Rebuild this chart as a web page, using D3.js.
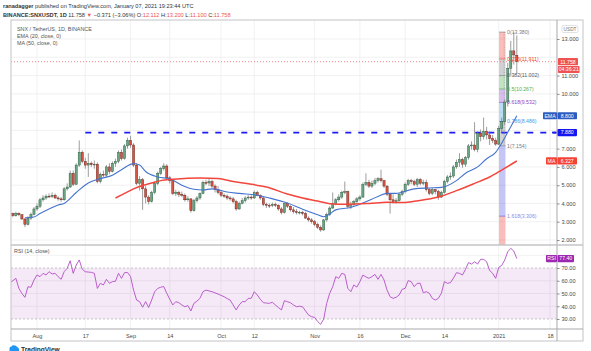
<!DOCTYPE html>
<html>
<head>
<meta charset="utf-8">
<script src="https://cdn.jsdelivr.net/npm/d3@7/dist/d3.min.js"></script>
<style>
  body { margin: 0; background: #fff; }
  svg { display: block; font-family: "Liberation Sans", Arial, sans-serif; }
</style>
</head>
<body>
<script>
// SNX / TetherUS, 1D, Binance - one candle per day from 23 Jul 2020 to 7 Jan 2021
var firstDay = "2020-07-23";

var opens = [
  3.40,3.45,3.33,3.45,3.38,3.15,2.85,3.20,3.40,3.70,
  3.85,4.20,4.30,4.40,4.38,4.45,4.30,4.25,4.20,4.80,
  4.90,5.65,5.05,6.10,6.80,6.30,6.10,6.20,6.12,6.15,
  5.20,5.60,5.55,6.00,5.75,6.20,6.30,6.80,6.45,7.15,
  7.45,7.20,6.10,5.10,5.30,4.80,4.35,4.10,4.60,5.10,
  5.65,5.90,6.05,5.40,5.25,4.55,4.60,4.50,4.45,4.20,
  4.25,3.60,4.15,4.30,4.55,5.15,5.12,5.20,4.95,4.75,
  4.60,4.45,4.40,4.30,4.25,4.10,3.70,4.00,4.15,4.30,
  4.35,4.30,4.60,4.45,4.30,3.95,3.90,3.88,3.95,3.90,
  3.70,3.50,4.00,3.85,3.65,3.55,3.50,3.52,3.45,3.20,
  3.10,3.00,2.85,2.70,2.55,3.10,3.40,3.75,4.00,4.20,
  4.35,4.60,4.65,3.85,3.95,4.10,4.25,4.35,5.05,5.15,
  4.95,5.10,5.25,5.35,5.25,4.95,4.50,4.20,4.10,4.15,
  4.50,4.65,5.05,5.25,5.20,5.05,5.30,5.10,5.15,4.75,
  4.55,4.75,4.65,4.35,4.60,5.20,5.45,5.50,6.00,6.25,
  6.40,6.15,6.50,7.15,7.20,6.95,7.85,7.65,7.95,7.75,
  7.55,7.45,7.25,8.10,8.50,9.55,11.40,12.35,12.112
];
var highs = [
  3.55,3.50,3.55,3.52,3.42,3.20,3.30,3.50,3.80,4.00,
  4.30,4.45,4.50,4.55,4.60,4.55,4.40,4.35,4.90,5.10,
  5.80,5.80,6.20,7.45,6.90,6.50,6.75,6.30,6.35,6.25,
  5.70,5.80,6.10,6.20,6.30,6.45,6.90,6.95,7.25,7.60,
  7.70,7.30,6.20,5.50,5.40,4.95,4.45,4.70,5.20,5.75,
  6.00,6.20,6.15,5.50,5.30,4.75,4.70,4.65,4.55,4.40,
  4.30,4.25,4.40,4.60,5.25,5.30,5.35,5.30,5.05,4.95,
  4.70,4.55,4.50,4.40,4.35,4.20,4.10,4.30,4.40,4.45,
  4.45,4.70,4.70,4.50,4.35,4.05,4.00,4.05,4.05,3.95,
  3.80,4.05,4.05,3.90,3.80,3.70,3.60,3.60,3.55,3.30,
  3.20,3.10,2.95,2.80,3.15,3.50,3.85,4.60,4.30,4.50,
  4.70,5.20,4.70,4.10,4.20,4.35,4.45,5.15,5.65,5.30,
  5.25,5.40,5.45,5.85,5.30,5.00,4.55,4.50,4.30,4.60,
  4.75,5.15,5.35,5.35,5.30,5.40,5.40,5.30,5.30,4.85,
  4.85,4.80,4.75,4.70,5.30,5.55,5.70,6.10,6.40,6.75,
  6.50,6.60,7.25,7.40,8.45,7.95,8.05,8.70,8.20,7.95,
  7.75,7.60,8.25,8.70,9.70,11.70,12.90,13.38,13.20
];
var lows = [
  3.30,3.25,3.28,3.30,3.10,2.70,2.80,3.10,3.35,3.60,
  3.75,4.10,4.20,4.30,4.30,4.25,4.15,4.10,4.15,4.70,
  4.85,4.95,5.00,6.00,6.20,5.90,5.45,6.00,5.90,5.10,
  5.10,5.45,5.45,5.60,5.70,6.00,6.20,6.35,6.40,7.00,
  7.05,6.00,5.00,4.70,3.65,4.00,3.95,4.05,4.50,5.00,
  5.55,5.80,5.30,5.10,4.45,4.40,4.35,4.35,4.10,4.10,
  3.50,3.55,4.05,4.20,4.50,5.00,4.95,4.85,4.60,4.50,
  4.35,4.30,4.20,4.15,4.00,3.60,3.65,3.95,4.05,4.20,
  4.20,4.25,4.40,4.20,3.85,3.75,3.75,3.80,3.80,3.60,
  3.40,3.45,3.75,3.55,3.45,3.40,3.40,3.35,3.15,3.00,
  2.90,2.75,2.60,2.45,2.50,3.00,3.30,3.70,3.90,4.10,
  4.25,4.50,3.75,3.70,3.85,4.00,4.15,4.30,4.95,4.85,
  4.85,5.00,5.15,5.15,4.85,4.40,3.45,4.00,4.00,4.10,
  4.40,4.55,4.95,5.05,4.95,4.90,5.00,5.00,4.65,4.45,
  4.45,4.50,4.20,4.30,4.55,5.10,5.30,5.40,5.90,6.00,
  5.95,6.00,6.40,6.95,6.85,6.80,7.40,7.50,7.50,7.20,
  7.30,7.154,7.20,7.90,8.30,9.30,11.00,11.60,11.10
];
var closes = [
  3.45,3.33,3.45,3.38,3.15,2.85,3.20,3.40,3.70,3.85,
  4.20,4.30,4.40,4.38,4.45,4.30,4.25,4.20,4.80,4.90,
  5.65,5.05,6.10,6.80,6.30,6.10,6.20,6.12,6.15,5.20,
  5.60,5.55,6.00,5.75,6.20,6.30,6.80,6.45,7.15,7.45,
  7.20,6.10,5.10,5.30,4.80,4.35,4.10,4.60,5.10,5.65,
  5.90,6.05,5.40,5.25,4.55,4.60,4.50,4.45,4.20,4.25,
  3.60,4.15,4.30,4.55,5.15,5.12,5.20,4.95,4.75,4.60,
  4.45,4.40,4.30,4.25,4.10,3.70,4.00,4.15,4.30,4.35,
  4.30,4.60,4.45,4.30,3.95,3.90,3.88,3.95,3.90,3.70,
  3.50,4.00,3.85,3.65,3.55,3.50,3.52,3.45,3.20,3.10,
  3.00,2.85,2.70,2.55,3.10,3.40,3.75,4.00,4.20,4.35,
  4.60,4.65,3.85,3.95,4.10,4.25,4.35,5.05,5.15,4.95,
  5.10,5.25,5.35,5.25,4.95,4.50,4.20,4.10,4.15,4.50,
  4.65,5.05,5.25,5.20,5.05,5.30,5.10,5.15,4.75,4.55,
  4.75,4.65,4.35,4.60,5.20,5.45,5.50,6.00,6.25,6.40,
  6.15,6.50,7.15,7.20,6.95,7.85,7.65,7.95,7.75,7.55,
  7.45,7.25,8.10,8.50,9.55,11.40,12.35,12.129,11.758
];
var rsiVals = [
  58.5,60,61.9,54,50,47,55.3,54.9,60.6,64.5,
  63.2,65.8,64.5,67.1,65.3,65.8,63.2,61.1,67.1,69.7,
  75.7,65.8,72.3,76.3,69,67.1,66.8,66.6,65.8,54,
  58,56.7,61.1,58,59.3,59.6,65.8,61.9,66.3,66.5,
  63.2,52.7,44.9,43.6,39.2,43.6,39,44.9,51.4,54,
  54.9,55.5,50.2,45.5,41,43.6,42.8,41,39.6,40.5,
  36.3,42.3,44,46.2,51.4,52.7,52,51.4,50.5,49.6,
  48.5,47.5,46,44.9,41,37.1,41,43.6,43.6,46.2,
  46.2,51.4,48.8,45.5,42.8,42.5,42.3,43.1,41,39,
  37.1,44.4,43.5,42.8,41,39.6,40,39.6,36.3,33.1,
  31.8,31.3,28,25.8,30,42.3,50.2,55.3,63.2,61.9,
  65.8,65,54,51.4,56.7,55,59.3,64.5,63,61.9,
  63.2,65,61.1,65,60.6,52.7,47.5,46.2,47,48.8,
  53.3,54,60.1,59.3,55.3,58,58,50.6,51.4,50.2,
  46.2,44.9,46.2,50.2,59.3,58,58.5,62,66.3,65.8,
  64.5,69,74.2,73.1,74.9,73.1,76.8,76.8,74.9,68,
  65.8,61.9,70.5,72,76.3,82.8,85.4,83.3,77.4
];

// indicator lines (day = days after 1 Aug 2020)
var emaDays = [-4,-1,1,4,7,9,13,17,21,25,28,32,34,36,40,44,48,52,55,58,63,67,73,77,83,88,93,95,97,99,104,108,113,116,119,125,130,134,139,142,146,149,152,154,157,159];
var emaVals = [3.22,3.26,3.45,3.7,3.92,4.0,4.6,5.12,5.36,5.55,5.85,6.18,6.1,5.75,5.45,5.35,5.0,4.78,4.74,4.8,4.63,4.55,4.45,4.3,4.02,3.68,3.38,3.27,3.42,3.65,3.78,4.02,4.38,4.55,4.55,4.8,4.85,4.88,5.25,5.65,6.0,6.45,6.8,7.3,8.2,8.8];
var maDays = [26,29,32,35,38,41,45,50,54,60,65,70,76,83,88,93,97,103,110,116,122,125,133,139,145,150,154,159];
var maVals = [4.3,4.55,4.8,4.98,5.12,5.25,5.32,5.38,5.4,5.36,5.2,5.08,4.9,4.52,4.3,4.13,3.99,3.96,4.0,4.06,4.05,4.12,4.35,4.7,5.1,5.45,5.83,6.327];

var priceTicks = [2,3,4,5,6,7,8,9,10,11,12,13];
var rsiTicks = [30,40,50,60,70,80];
var timeTicks = ["2020-08-01","2020-08-17","2020-09-01","2020-09-14","2020-10-01","2020-10-12","2020-11-01","2020-11-16","2020-12-01","2020-12-14","2021-01-01","2021-01-18"];
var timeLabels = ["Aug","17","Sep","14","Oct","12","Nov","16","Dec","14","2021","18"];

var fibLevels = [0,0.236,0.382,0.5,0.618,0.786,1,1.618,2.618];
var fibColors = ["#787b86","#f44336","#787b86","#4caf50","#8e44c9","#3b9ae6","#787b86","#5b5be6","#f44336"];
var fibText = ["#787b86","#f44336","#555862","#4caf50","#8e44c9","#3b9ae6","#787b86","#8a8ae8"];
var fibHigh = 13.38, fibLow = 7.154;
var resistance = 7.88;
var lastPrice = 11.758;

var parse = d3.utcParse("%Y-%m-%d");
var day0 = parse(firstDay), aug1 = parse("2020-08-01");

// pane edges (window.top is reserved, hence the names)
var paneL = 11, paneR = 557, paneT = 20, paneM = 245, paneB = 329, frameB = 341, frameR = 583;

var x = d3.scaleUtc().domain([aug1, parse("2021-01-18")]).range([37, 550]);
var y = d3.scaleLinear().domain([2, 13]).range([240, 39.03]);
var yr = d3.scaleLinear().domain([30, 70]).range([319, 268]);

var candles = opens.map(function(o, i) {
  return {date: d3.utcDay.offset(day0, i), o: o, h: highs[i], l: lows[i], c: closes[i], rsi: rsiVals[i]};
});
var ema = emaDays.map(function(d, i) { return {date: d3.utcDay.offset(aug1, d), v: emaVals[i]}; });
var ma = maDays.map(function(d, i) { return {date: d3.utcDay.offset(aug1, d), v: maVals[i]}; });

var svg = d3.select("body").append("svg")
    .attr("width", 591)
    .attr("height", 351);

var defs = svg.append("defs");
defs.append("clipPath").attr("id", "clipMain").append("rect")
    .attr("x", paneL).attr("y", paneT).attr("width", paneR - paneL).attr("height", paneM - paneT);
defs.append("clipPath").attr("id", "clipRsi").append("rect")
    .attr("x", paneL).attr("y", paneM).attr("width", paneR - paneL).attr("height", paneB - paneM);

// grid
var grid = svg.append("g").attr("stroke", "#ededed").attr("stroke-width", 0.8);
grid.selectAll("line.v").data(timeTicks).enter().append("line")
    .attr("x1", function(d) { return x(parse(d)); })
    .attr("x2", function(d) { return x(parse(d)); })
    .attr("y1", paneT).attr("y2", paneB);
grid.selectAll("line.h").data(priceTicks).enter().append("line")
    .attr("x1", paneL).attr("x2", paneR)
    .attr("y1", function(d) { return y(d); })
    .attr("y2", function(d) { return y(d); });
grid.selectAll("line.r").data([40, 50, 60, 80]).enter().append("line")
    .attr("x1", paneL).attr("x2", paneR)
    .attr("y1", function(d) { return yr(d); })
    .attr("y2", function(d) { return yr(d); });

// RSI band
svg.append("rect")
    .attr("x", paneL).attr("y", yr(70))
    .attr("width", paneR - paneL).attr("height", yr(30) - yr(70))
    .attr("fill", "#9c27b0").attr("fill-opacity", 0.1);
svg.selectAll("line.band").data([70, 30]).enter().append("line")
    .attr("x1", paneL).attr("x2", paneR)
    .attr("y1", function(d) { return yr(d); })
    .attr("y2", function(d) { return yr(d); })
    .attr("stroke", "#a3a3ad").attr("stroke-width", 0.6)
    .attr("stroke-dasharray", "2,2");

// fib retracement
var fibPrice = function(l) { return fibHigh - l * (fibHigh - fibLow); };
var fx0 = x(parse("2021-01-01")) + 0.3;
var fx1 = x(d3.utcHour.offset(parse("2021-01-03"), 6));
var fibG = svg.append("g").attr("clip-path", "url(#clipMain)");
fibG.selectAll("rect").data(fibLevels.slice(1)).enter().append("rect")
    .attr("x", fx0).attr("width", fx1 - fx0)
    .attr("y", function(d, i) { return y(fibPrice(fibLevels[i])); })
    .attr("height", function(d, i) { return y(fibPrice(d)) - y(fibPrice(fibLevels[i])); })
    .attr("fill", function(d, i) { return fibColors[i + 1]; })
    .attr("fill-opacity", 0.35);
fibG.selectAll("line").data(fibLevels.slice(0, 8)).enter().append("line")
    .attr("x1", fx0).attr("x2", fx1)
    .attr("y1", function(d) { return y(fibPrice(d)); })
    .attr("y2", function(d) { return y(fibPrice(d)); })
    .attr("stroke", function(d, i) { return fibColors[i]; })
    .attr("stroke-width", 0.6);

// resistance line
svg.append("line")
    .attr("x1", x(parse("2020-08-17"))).attr("x2", paneR)
    .attr("y1", y(resistance)).attr("y2", y(resistance))
    .attr("stroke", "#1c1cf2").attr("stroke-width", 1.8)
    .attr("stroke-dasharray", "6,7");

// candles
var cg = svg.append("g").attr("clip-path", "url(#clipMain)");
var bar = cg.selectAll("g.candle").data(candles).enter().append("g");
bar.append("line")
    .attr("x1", function(d) { return x(d.date); })
    .attr("x2", function(d) { return x(d.date); })
    .attr("y1", function(d) { return y(d.h); })
    .attr("y2", function(d) { return y(d.l); })
    .attr("stroke", "#737375").attr("stroke-width", 0.7);
bar.append("rect")
    .attr("x", function(d) { return x(d.date) - 1.1; })
    .attr("width", 2.2)
    .attr("y", function(d) { return y(Math.max(d.o, d.c)); })
    .attr("height", function(d) { return Math.max(0.8, Math.abs(y(d.o) - y(d.c))); })
    .attr("fill", function(d) { return d.c >= d.o ? "#6ba583" : "#d75442"; })
    .attr("stroke", function(d) { return d.c >= d.o ? "#225437" : "#5b1a13"; })
    .attr("stroke-width", 0.4);

// EMA 20 and MA 50
var line = d3.line()
    .x(function(d) { return x(d.date); })
    .y(function(d) { return y(d.v); })
    .curve(d3.curveMonotoneX);
cg.append("path").datum(ema).attr("d", line)
    .attr("fill", "none").attr("stroke", "#4474d0").attr("stroke-width", 1.1);
cg.append("path").datum(ma).attr("d", line)
    .attr("fill", "none").attr("stroke", "#f2463c").attr("stroke-width", 1.5);

// fib trend line and labels
svg.append("line")
    .attr("x1", fx1 - 1.3).attr("x2", fx1 - 1.3)
    .attr("y1", y(fibHigh)).attr("y2", y(fibLow))
    .attr("stroke", "#8a8a8a").attr("stroke-width", 0.6)
    .attr("stroke-dasharray", "1,1.5");
svg.selectAll("text.fib").data(fibLevels.slice(0, 8)).enter().append("text")
    .attr("x", fx1 + 1.6)
    .attr("y", function(d) { return y(fibPrice(d)) + 1.8; })
    .attr("font-size", 5.2)
    .attr("fill", function(d, i) { return fibText[i]; })
    .text(function(d) { return d + "(" + d3.format(".3f")(fibPrice(d)) + ")"; });

// last price line
svg.append("line")
    .attr("x1", paneL).attr("x2", paneR)
    .attr("y1", y(lastPrice)).attr("y2", y(lastPrice))
    .attr("stroke", "#ef5350").attr("stroke-width", 0.7)
    .attr("stroke-dasharray", "1,2");

// RSI line
var rsiLine = d3.line()
    .x(function(d) { return x(d.date); })
    .y(function(d) { return yr(d.rsi); });
svg.append("g").attr("clip-path", "url(#clipRsi)")
  .append("path").datum(candles).attr("d", rsiLine)
    .attr("fill", "none").attr("stroke", "#b24ec6").attr("stroke-width", 0.9);

// frame
var frame = svg.append("g").attr("stroke", "#c4c4c8").attr("fill", "none");
frame.append("rect").attr("x", paneL).attr("y", paneT).attr("width", frameR - paneL).attr("height", frameB - paneT);
frame.append("line").attr("x1", paneR).attr("x2", paneR).attr("y1", paneT).attr("y2", frameB).attr("stroke", "#a9a9ad");
frame.append("line").attr("x1", paneL).attr("x2", frameR).attr("y1", paneM).attr("y2", paneM).attr("stroke-width", 1.6);
frame.append("line").attr("x1", paneL).attr("x2", frameR).attr("y1", paneB).attr("y2", paneB).attr("stroke", "#a9a9ad");

// values that get a coloured tag on the scale
var f3 = d3.format(".3f");
var emaLast = emaVals[emaVals.length - 1], maLast = maVals[maVals.length - 1], rsiLast = rsiVals[rsiVals.length - 1];
var tagYs = [y(lastPrice), y(lastPrice) + 7.8, y(emaLast), y(resistance), y(maLast), yr(rsiLast)];
function covered(py) {
  return tagYs.some(function(t) { return Math.abs(t - py) < 5.8; });
}

// axes
var fontFam = "Liberation Sans, Arial, sans-serif";
var pAxis = svg.append("g")
    .attr("transform", "translate(" + paneR + ",0)")
    .call(d3.axisRight(y).tickValues(priceTicks.filter(function(d) { return !covered(y(d)); }))
      .tickFormat(d3.format(".3f")).tickSize(2.5).tickPadding(2));
var rAxis = svg.append("g")
    .attr("transform", "translate(" + paneR + ",0)")
    .call(d3.axisRight(yr).tickValues(rsiTicks.filter(function(d) { return !covered(yr(d)); }))
      .tickFormat(d3.format(".2f")).tickSize(2.5).tickPadding(2));
var tAxis = svg.append("g")
    .attr("transform", "translate(0," + paneB + ")")
    .call(d3.axisBottom(x).tickValues(timeTicks.map(parse))
      .tickFormat(function(d, i) { return timeLabels[i]; }).tickSize(0).tickPadding(5.5));
[pAxis, rAxis, tAxis].forEach(function(a) {
  a.select(".domain").remove();
  a.attr("font-size", 5.6).attr("font-family", fontFam);
  a.selectAll("text").attr("fill", "#4a4a4a");
  a.selectAll("line").attr("stroke", "#8a8a8a");
});

// price tags on the scale
function tag(x0, x1, yc, fill, txt) {
  svg.append("rect")
      .attr("x", x0).attr("y", yc - 3.6)
      .attr("width", x1 - x0).attr("height", 7.2)
      .attr("rx", 0.8).attr("fill", fill);
  svg.append("text")
      .attr("x", (x0 + x1) / 2).attr("y", yc + 1.9)
      .attr("text-anchor", "middle")
      .attr("font-size", 5.2).attr("fill", "#fff")
      .text(txt);
}
tag(558, 578, y(lastPrice), "#ef5350", f3(lastPrice));
tag(558, 579.5, y(lastPrice) + 7.8, "#ef5350", "04:36:21");
tag(543, 557, y(emaLast), "#2d5bbf", "EMA");
tag(557.5, 577, y(emaLast), "#2d5bbf", f3(emaLast));
svg.append("line").attr("x1", 552).attr("x2", 556).attr("y1", y(resistance)).attr("y2", y(resistance))
    .attr("stroke", "#1c1cf2").attr("stroke-width", 1.8);
tag(557.5, 577, y(resistance), "#1515f0", f3(resistance));
tag(546, 557, y(maLast), "#f44336", "MA");
tag(557.5, 577, y(maLast), "#f44336", f3(maLast));
tag(546, 557, yr(rsiLast), "#9c27b0", "RSI");
tag(557.5, 574, yr(rsiLast), "#9c27b0", d3.format(".2f")(rsiLast));

// currency badge
svg.append("rect").attr("x", 562).attr("y", 25.5).attr("width", 16).attr("height", 7)
    .attr("rx", 1.5).attr("fill", "#fff").attr("stroke", "#cfcfcf").attr("stroke-width", 0.6);
svg.append("text").attr("x", 570).attr("y", 30.8).attr("text-anchor", "middle")
    .attr("font-size", 4.8).attr("fill", "#777").text("USDT");

// legends
var legend = svg.append("g").attr("font-size", 5.4).attr("fill", "#555");
legend.append("text").attr("x", 17).attr("y", 31.3).text("SNX / TetherUS, 1D, BINANCE");
legend.append("text").attr("x", 17).attr("y", 38).text("EMA (20, close, 0)");
legend.append("text").attr("x", 17).attr("y", 45.3).text("MA (50, close, 0)");
legend.append("text").attr("x", 14).attr("y", 253).text("RSI (14, close)");

// header
var h1 = svg.append("text").attr("x", 3).attr("y", 7.7).attr("font-size", 5.6).attr("fill", "#333");
h1.append("tspan").attr("font-weight", "bold").text("ranadagger");
h1.append("tspan").text(" published on TradingView.com, January 07, 2021 19:23:44 UTC");
var h2 = svg.append("text").attr("x", 3).attr("y", 17).attr("font-size", 5.6).attr("fill", "#333");
h2.append("tspan").attr("font-weight", "bold").text("BINANCE:SNXUSDT, 1D ");
h2.append("tspan").text(" " + f3(lastPrice) + " ");
h2.append("tspan").attr("fill", "#ef5350").text("\u25BC");
h2.append("tspan").text(" \u22120.371 (\u22123.06%) O:");
h2.append("tspan").attr("fill", "#ef5350").text("12.112");
h2.append("tspan").text(" H:");
h2.append("tspan").attr("fill", "#ef5350").text("13.200");
h2.append("tspan").text(" L:");
h2.append("tspan").attr("fill", "#ef5350").text("11.100");
h2.append("tspan").text(" C:");
h2.append("tspan").attr("fill", "#ef5350").text(f3(lastPrice));

// footer logo
svg.append("path")
    .attr("d", "M9.5,351 L9.5,348.5 Q9.5,346.5 11.5,346.5 Q12.5,344.8 14.5,345.5 Q16.5,345 17,347 Q19,347.3 19,349.5 L19,351 Z")
    .attr("fill", "#2196f3");
svg.append("text").attr("x", 21).attr("y", 351.5)
    .attr("font-size", 6.6).attr("font-weight", "bold").attr("fill", "#2a2e39")
    .text("TradingView");
</script>
</body>
</html>
